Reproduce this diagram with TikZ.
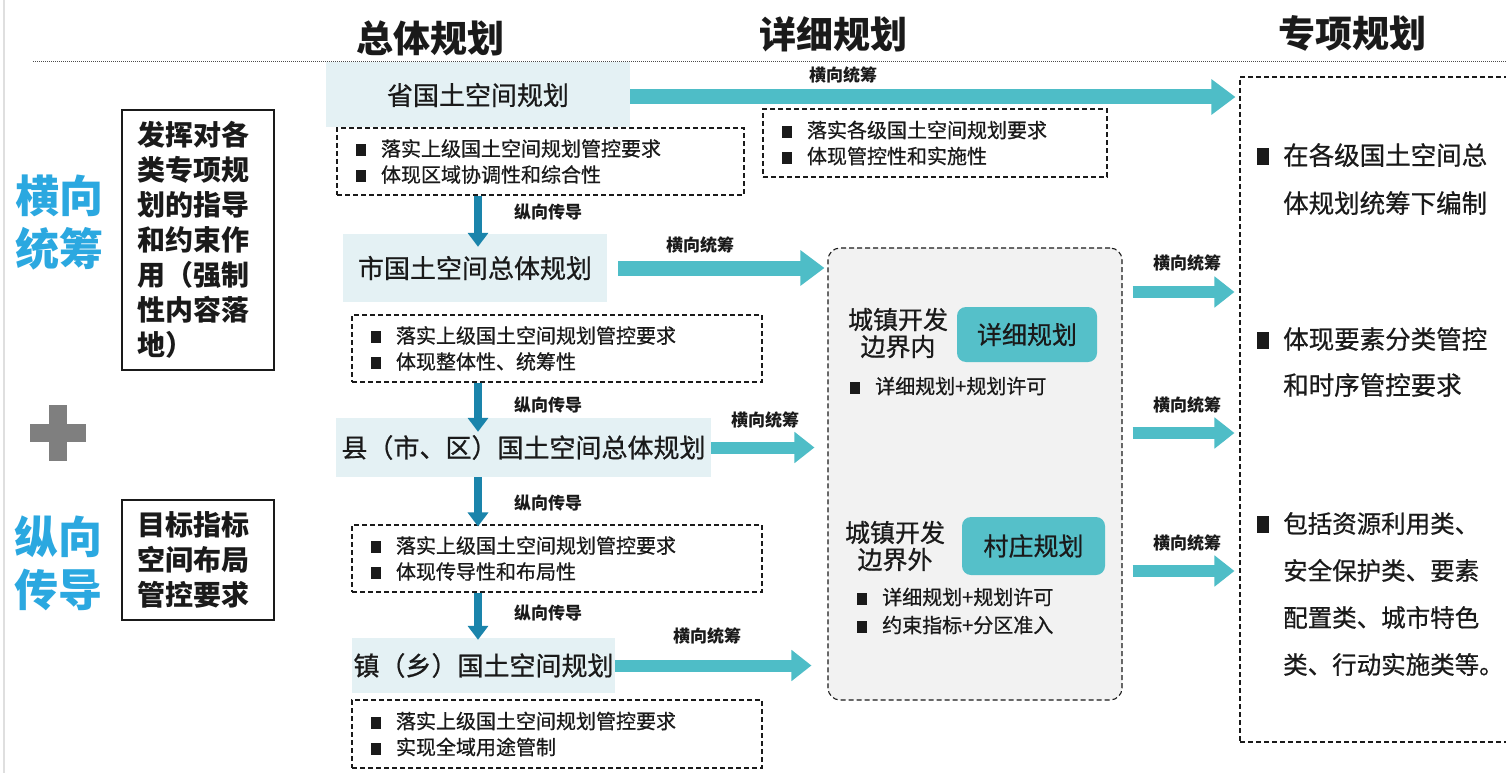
\documentclass[tikz,border=0pt]{standalone}
\usepackage{fontspec}
\setmainfont{Noto Sans CJK SC}
\newfontfamily\medf{Noto Sans CJK SC}[FakeBold=0.7]
\usetikzlibrary{arrows.meta}
\definecolor{lvlbg}{HTML}{E4F1F4}
\definecolor{hteal}{HTML}{4EBDC7}
\definecolor{vblue}{HTML}{1A84AB}
\definecolor{sideblue}{HTML}{2BA8E0}
\definecolor{boxteal}{HTML}{55C0C9}
\definecolor{detbg}{HTML}{F2F2F2}
\definecolor{ink}{HTML}{1A1A1A}
\definecolor{plusgray}{HTML}{7F7F7F}
\newcommand{\fsz}[2]{\fontsize{#1}{#2}\selectfont}
\newcommand{\bul}{\makebox[25pt][l]{\rule[0pt]{10pt}{12pt}}}
\newcommand{\bigbul}{\makebox[26pt][l]{\rule[0pt]{12pt}{17pt}}}
\begin{document}
\begin{tikzpicture}[x=1pt,y=-1pt,
  lvl/.style={fill=lvlbg, inner sep=0pt, font=\medf\fsz{26}{30}, text=ink},
  dbox/.style={draw=ink, dash pattern=on 5pt off 3pt, line width=1.1pt, inner xsep=19pt, inner ysep=0pt, align=left, font=\medf\fsz{20}{26}, text=ink},
  harrow/.style={hteal, line width=15pt, -{Triangle[width=34pt,length=24pt]}},
  harrows/.style={hteal, line width=12pt, -{Triangle[width=30pt,length=20pt]}},
  varrow/.style={vblue, line width=8pt, -{Triangle[width=20pt,length=14pt]}},
  lbl/.style={font=\bfseries\fsz{17}{20}, text=ink, inner sep=0pt},
  ttl/.style={font=\bfseries\fsz{37}{40}, text=ink, inner sep=0pt},
  side/.style={font=\bfseries\fsz{44}{53}, text=sideblue, align=center, inner sep=0pt},
  sbox/.style={draw=ink, line width=1.2pt, inner xsep=15pt, inner ysep=0pt, align=left, font=\bfseries\fsz{28}{35}, text=ink},
  tbox/.style={fill=boxteal, rounded corners=9pt, inner sep=0pt, font=\medf\fsz{25}{30}, text=ink},
  plain/.style={inner sep=0pt, text=ink, align=left}
]
\useasboundingbox (0,0) rectangle (1506,773);
\fill[white] (0,0) rectangle (1506,773);
\draw[gray!25, line width=2pt] (4,0) -- (4,773);

% titles
\node[ttl] (t1) at (430,38) {总体规划};
\node[ttl] (t2) at (833,34) {详细规划};
\node[ttl] (t3) at (1352,33) {专项规划};
\draw[black!70, line width=1pt, dash pattern=on 1pt off 1pt] (33,62) -- (1506,62);

% left side
\node[side] (hx) at (60,223) {横向\\统筹};
\node[side] (zx0) at (58,563) {纵向\\传导};
\fill[plusgray] (30,424) rectangle (86,442);
\fill[plusgray] (49,405) rectangle (67,461);
\node[sbox, text width=122pt, minimum height=260pt] (lb1) at (198,240)
  {发挥对各\\类专项规\\划的指导\\和约束作\\用（强制\\性内容落\\地）};
\node[sbox, text width=122pt, minimum height=120pt] (lb2) at (198,560)
  {目标指标\\空间布局\\管控要求};

% right dashed box
\node[draw=ink, dash pattern=on 5pt off 3pt, line width=1.1pt, minimum width=290pt, minimum height=665pt, inner sep=0pt] (zx) at (1385,409.5) {};
\node[plain, anchor=west, font=\medf\fsz{25.5}{48}] (r1) at (1257,179) {\bigbul 在各级国土空间总\\\hspace*{26pt}体规划统筹下编制};
\node[plain, anchor=west, font=\medf\fsz{25.5}{46}] (r2) at (1257,362) {\bigbul 体现要素分类管控\\\hspace*{26pt}和时序管控要求};
\node[plain, anchor=west, font=\medf\fsz{24.5}{47}] (r3) at (1257,594) {\bigbul 包括资源利用类、\\\hspace*{26pt}安全保护类、要素\\\hspace*{26pt}配置类、城市特色\\\hspace*{26pt}类、行动实施类等。};

% level boxes
\node[lvl, minimum width=304pt, minimum height=65pt] (sheng) at (478,95) {省国土空间规划};
\node[lvl, minimum width=264pt, minimum height=68pt] (shi) at (475,268) {市国土空间总体规划};
\node[lvl, minimum width=375pt, minimum height=59pt] (xian) at (523.5,447.5) {县（市、区）国土空间总体规划};
\node[lvl, minimum width=263pt, minimum height=55pt] (zhen) at (483.5,665.5) {镇（乡）国土空间规划};

% dashed requirement boxes
\node[dbox, text width=369pt, minimum height=67pt] (d1) at (540.5,161.5) {\bul 落实上级国土空间规划管控要求\\\bul 体现区域协调性和综合性};
\node[dbox, text width=372pt, minimum height=67pt] (d2) at (557,348.5) {\bul 落实上级国土空间规划管控要求\\\bul 体现整体性、统筹性};
\node[dbox, text width=372pt, minimum height=67pt] (d3) at (557,558.5) {\bul 落实上级国土空间规划管控要求\\\bul 体现传导性和布局性};
\node[dbox, text width=372pt, minimum height=68pt] (d4) at (557,734) {\bul 落实上级国土空间规划管控要求\\\bul 实现全域用途管制};
\node[dbox, text width=306pt, minimum height=68pt] (d5) at (935,143) {\bul 落实各级国土空间规划要求\\\bul 体现管控性和实施性};

% detail planning box
\node[draw=ink, dash pattern=on 5pt off 3pt, line width=1.1pt, fill=detbg, rounded corners=12pt, minimum width=294pt, minimum height=452pt, inner sep=0pt] (det) at (975,474) {};
\node[plain, align=center, font=\medf\fsz{25}{27}] (in1) at (898,333) {城镇开发\\边界内};
\node[tbox, minimum width=140pt, minimum height=55pt] (xx) at (1027,334.5) {详细规划};
\node[plain, anchor=west, font=\medf\fsz{20}{26}] (in2) at (850,386) {\bul 详细规划+规划许可};
\node[plain, align=center, font=\medf\fsz{25}{27}] (out1) at (895,546) {城镇开发\\边界外};
\node[tbox, minimum width=143pt, minimum height=58pt] (cz) at (1033.5,546) {村庄规划};
\node[plain, anchor=west, font=\medf\fsz{20}{28}] (out2) at (857,611) {\bul 详细规划+规划许可\\\bul 约束指标+分区准入};

% vertical arrows
\draw[varrow] (d1.south -| sheng.center) -- ([yshift=-13pt]shi.north -| sheng.center);
\draw[varrow] (d2.south -| sheng.center) -- ([yshift=-14pt]xian.north -| sheng.center);
\draw[varrow] (xian.south -| sheng.center) -- ([yshift=-2pt]d3.north -| sheng.center);
\draw[varrow] (d3.south -| sheng.center) -- ([yshift=-2pt]zhen.north -| sheng.center);
\node[lbl] (v1) at (548,212) {纵向传导};
\node[lbl] (v2) at (548,405) {纵向传导};
\node[lbl] (v3) at (548,503) {纵向传导};
\node[lbl] (v4) at (548,613) {纵向传导};

% horizontal arrows
\coordinate (ya) at (0,97);
\draw[harrow, shorten >=4pt] (sheng.east |- ya) -- (zx.west |- ya);
\draw[harrow, shorten <=11pt, shorten >=3pt] (shi.east) -- (shi.east -| det.west);
\draw[harrows, shorten >=13pt] (xian.east) -- (xian.east -| det.west);
\draw[harrows, shorten >=16pt] (zhen.east) -- (zhen.east -| det.west);
\coordinate (yb) at (0,292);
\coordinate (yc) at (0,433);
\coordinate (yd) at (0,571);
\draw[harrows, shorten <=10pt, shorten >=5pt] (det.east |- yb) -- (zx.west |- yb);
\draw[harrows, shorten <=10pt, shorten >=5pt] (det.east |- yc) -- (zx.west |- yc);
\draw[harrows, shorten <=10pt, shorten >=5pt] (det.east |- yd) -- (zx.west |- yd);
\node[lbl] (h1) at (843,75) {横向统筹};
\node[lbl] (h2) at (700,245) {横向统筹};
\node[lbl] (h3) at (765,420) {横向统筹};
\node[lbl] (h4) at (707,636) {横向统筹};
\node[lbl] (h5) at (1187,263) {横向统筹};
\node[lbl] (h6) at (1187,405) {横向统筹};
\node[lbl] (h7) at (1187,543) {横向统筹};
\end{tikzpicture}
\end{document}
